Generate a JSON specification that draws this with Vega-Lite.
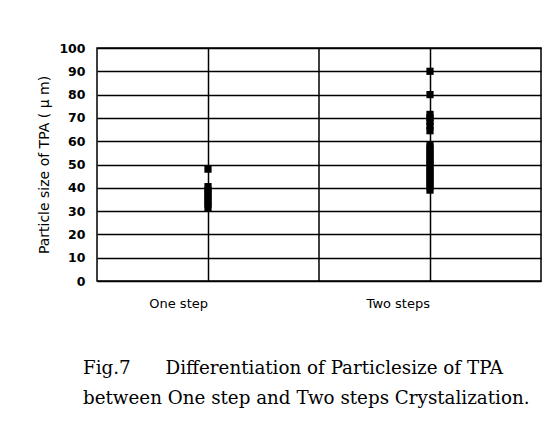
{
  "$schema": "https://vega.github.io/schema/vega-lite/v6.json",
  "width": 444,
  "height": 233,
  "padding": {"left": 37, "top": 42, "right": 10, "bottom": 5},
  "background": "white",
  "config": {
    "view": {"stroke": "black", "strokeWidth": 1.5},
    "axis": {"labelColor": "black", "titleColor": "black"}
  },
  "title": {
    "text": ["Fig.7\u00a0\u00a0\u00a0\u00a0\u00a0\u00a0Differentiation of Particlesize of TPA", "between One step and Two steps Crystalization."],
    "orient": "bottom",
    "anchor": "start",
    "frame": "group",
    "font": "DejaVu Serif",
    "fontSize": 18.3,
    "fontWeight": "normal",
    "color": "black",
    "lineHeight": 30,
    "offset": 50,
    "dx": -14
  },
  "data": {
    "values": [
      {"method": "One step", "size": 48},
      {"method": "One step", "size": 40.5},
      {"method": "One step", "size": 39},
      {"method": "One step", "size": 37.5},
      {"method": "One step", "size": 36},
      {"method": "One step", "size": 34.5},
      {"method": "One step", "size": 33},
      {"method": "One step", "size": 31.5},
      {"method": "Two steps", "size": 90},
      {"method": "Two steps", "size": 80},
      {"method": "Two steps", "size": 71.5},
      {"method": "Two steps", "size": 70},
      {"method": "Two steps", "size": 68.5},
      {"method": "Two steps", "size": 66.5},
      {"method": "Two steps", "size": 64.5},
      {"method": "Two steps", "size": 58.5},
      {"method": "Two steps", "size": 57},
      {"method": "Two steps", "size": 55.5},
      {"method": "Two steps", "size": 54},
      {"method": "Two steps", "size": 52.5},
      {"method": "Two steps", "size": 51},
      {"method": "Two steps", "size": 49.5},
      {"method": "Two steps", "size": 48},
      {"method": "Two steps", "size": 46.5},
      {"method": "Two steps", "size": 45},
      {"method": "Two steps", "size": 43.5},
      {"method": "Two steps", "size": 42},
      {"method": "Two steps", "size": 40.5},
      {"method": "Two steps", "size": 39}
    ]
  },
  "layer": [
    {
      "data": {"values": [{"method": "Two steps"}]},
      "mark": {"type": "rule", "color": "black", "strokeWidth": 1.5},
      "encoding": {
        "x": {"field": "method", "type": "nominal", "bandPosition": 0, "sort": ["One step", "Two steps"]}
      }
    },
    {
      "mark": {"type": "square", "filled": true, "color": "black", "size": 52, "opacity": 1},
      "encoding": {
        "x": {
          "field": "method",
          "type": "nominal",
          "sort": ["One step", "Two steps"],
          "scale": {"type": "band", "paddingInner": 0, "paddingOuter": 0},
          "axis": {
            "title": null,
            "grid": true,
            "gridColor": "black",
            "gridWidth": 1.5,
            "gridOpacity": 1,
            "ticks": false,
            "domain": false,
            "labelAngle": 0,
            "labelFont": "DejaVu Sans",
            "labelFontSize": 13,
            "labelPadding": 22
          }
        },
        "y": {
          "field": "size",
          "type": "quantitative",
          "scale": {"domain": [0, 100], "nice": false},
          "axis": {
            "title": "Particle size of TPA ( μ m)",
            "titleFont": "DejaVu Sans",
            "titleFontSize": 14,
            "titleFontWeight": "normal",
            "titlePadding": 7,
            "values": [0, 10, 20, 30, 40, 50, 60, 70, 80, 90, 100],
            "grid": true,
            "gridColor": "black",
            "gridWidth": 1.5,
            "gridOpacity": 1,
            "ticks": false,
            "domain": false,
            "labelFont": "DejaVu Sans",
            "labelFontSize": 12.5,
            "labelFontWeight": "bold",
            "labelPadding": 12
          }
        }
      }
    }
  ]
}
